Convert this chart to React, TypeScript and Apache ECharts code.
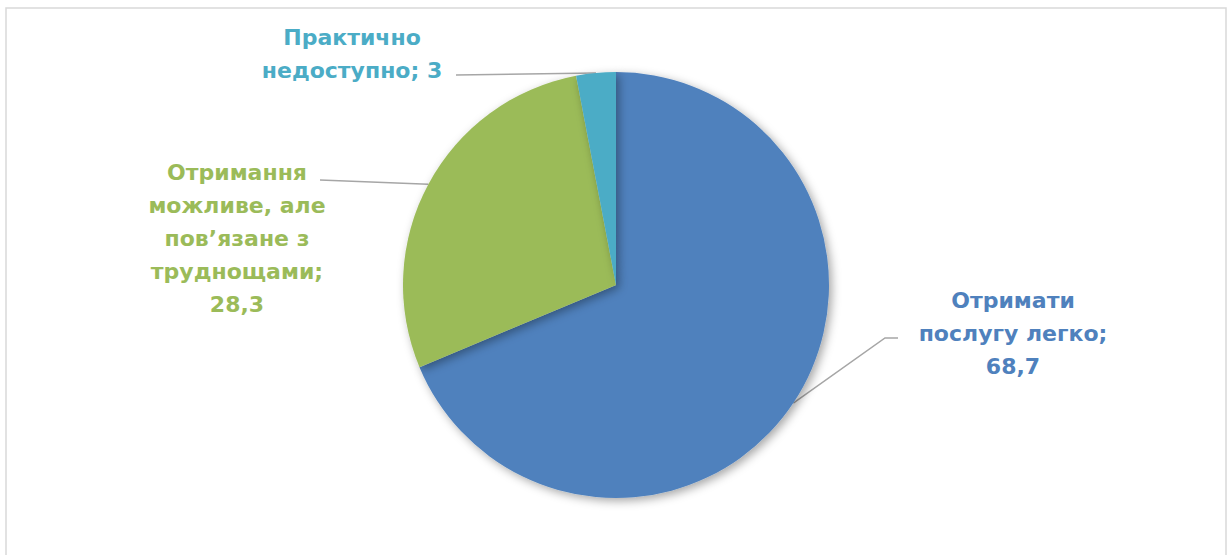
import React, { useEffect, useRef } from "react";
import * as echarts from "echarts";

const categories = [
  "Отримати послугу легко",
  "Отримання можливе, але пов’язане з труднощами",
  "Практично недоступно",
];
const values = [68.7, 28.3, 3];
const labelTexts = [
  "Отримати\nпослугу легко;\n",
  "Отримання\nможливе, але\nпов’язане з\nтруднощами;\n",
  "Практично\nнедоступно; ",
];
const colors = ["#4F81BD", "#9BBB59", "#4BACC6"];
const labelPos = [
  [1013, 333],
  [237, 238],
  [352, 54],
];
// connector ends near labels: [elbow or null, end]
const lineEnds: (number[] | null)[][] = [
  [[885, 338], [898, 338]],
  [null, [320, 180]],
  [null, [456, 75]],
];

export default function App() {
  const ref = useRef<HTMLDivElement>(null);
  useEffect(() => {
    if (!ref.current) return;
    const chart = echarts.init(ref.current, null, { renderer: "svg" });
    chart.setOption({
      animation: false,
      backgroundColor: "#ffffff",
      graphic: [
        {
          type: "rect",
          shape: { x: 6, y: 8, width: 1220, height: 560 },
          style: { fill: "none", stroke: "#d9d9d9", lineWidth: 1.5 },
          silent: true,
        },
      ],
      series: [
        {
          type: "pie",
          center: [616, 285],
          radius: 213,
          startAngle: 90,
          clockwise: true,
          itemStyle: {
            shadowBlur: 10,
            shadowColor: "rgba(0,0,0,0.35)",
            shadowOffsetX: 3,
            shadowOffsetY: 3,
          },
          emphasis: { disabled: true },
          label: {
            show: true,
            fontFamily: "DejaVu Sans",
            fontWeight: "bold",
            fontSize: 22,
            lineHeight: 33,
            align: "center",
          },
          labelLine: {
            show: true,
            length: 20,
            length2: 10,
            lineStyle: { color: "#a6a6a6", width: 1.5 },
          },
          labelLayout: (params: any) => {
            const i = params.dataIndex;
            const p = labelPos[i];
            const start = params.labelLinePoints
              ? params.labelLinePoints[0]
              : null;
            const ends = lineEnds[i];
            let pts: number[][] | undefined;
            if (start) {
              pts = ends[0]
                ? [start, ends[0] as number[], ends[1] as number[]]
                : [start, ends[1] as number[], ends[1] as number[]];
            }
            return {
              x: p[0],
              y: p[1],
              align: "center",
              verticalAlign: "middle",
              labelLinePoints: pts,
            };
          },
          data: categories.map((name, i) => ({
            name,
            value: values[i],
            itemStyle: { color: colors[i] },
            label: {
              formatter: labelTexts[i] + String(values[i]).replace(".", ","),
              color: colors[i],
            },
          })),
        },
      ],
    });
    return () => chart.dispose();
  }, []);
  return (
    <div
      ref={ref}
      style={{ position: "fixed", left: 0, top: 0, width: 1229, height: 555 }}
    />
  );
}
